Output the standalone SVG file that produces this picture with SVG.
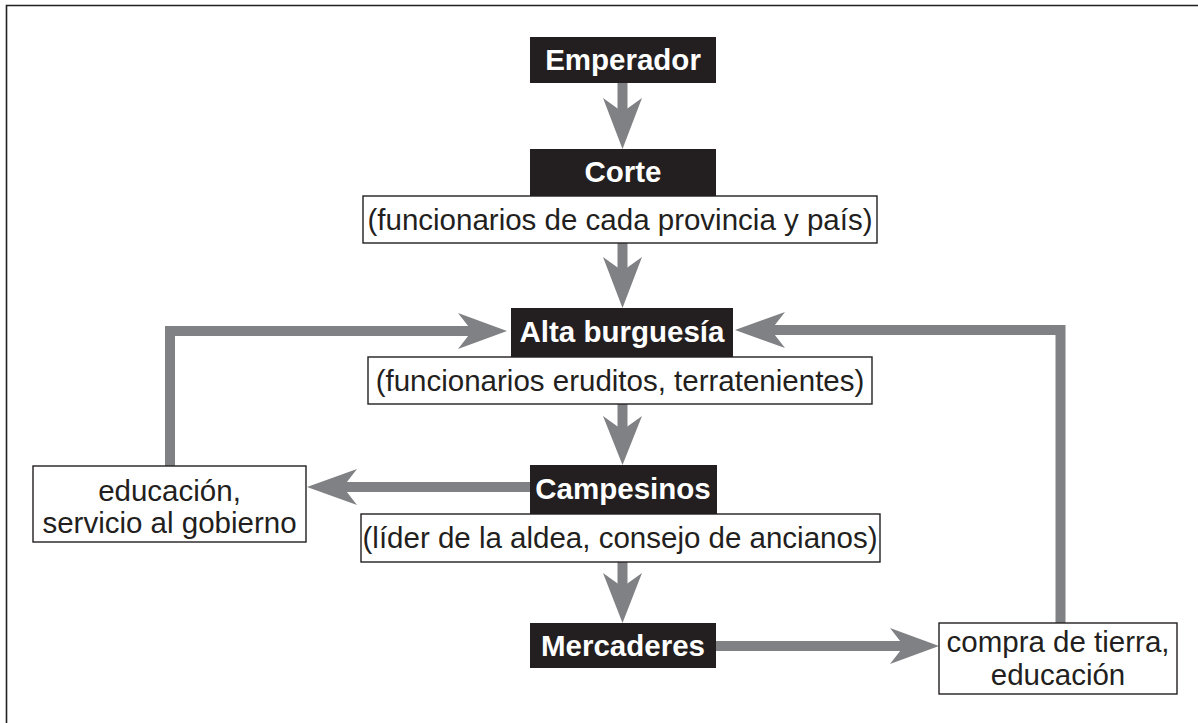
<svg xmlns="http://www.w3.org/2000/svg" width="1198" height="723" viewBox="0 0 1198 723">
<defs>
<style>
.bk{fill:#231f20}
.wb{fill:#fff;stroke:#231f20;stroke-width:1.4}
.tb{font-family:"Liberation Sans",Arial,sans-serif;font-weight:bold;font-size:29.5px;fill:#fff;text-anchor:middle}
.tr{font-family:"Liberation Sans",Arial,sans-serif;font-size:29.5px;fill:#231f20;text-anchor:middle}
.sh{fill:none;stroke:#808184;stroke-width:10;stroke-linejoin:miter}
.hd{fill:#808184}
.fr{fill:none;stroke:#231f20;stroke-width:1.6}
</style>
</defs>
<rect width="1198" height="723" fill="#fff"/>
<path class="fr" d="M6.5,723 V5.5 H1198"/>
<g id="connectors">
<line class="sh" x1="622.5" y1="83" x2="622.5" y2="115"/>
<polygon class="hd" points="603,98 622.5,112 642,98 622.5,149"/>
<line class="sh" x1="622.5" y1="243" x2="622.5" y2="274"/>
<polygon class="hd" points="603,257 622.5,271 642,257 622.5,308"/>
<line class="sh" x1="622.5" y1="404" x2="622.5" y2="431"/>
<polygon class="hd" points="603,416 622.5,430 642,416 622.5,465"/>
<line class="sh" x1="622.5" y1="562" x2="622.5" y2="590"/>
<polygon class="hd" points="603,573 622.5,587 642,573 622.5,623"/>
<path class="sh" d="M170,466 V331 H475"/>
<polygon class="hd" points="458,313 472,331 458,349 507,331"/>
<path class="sh" d="M1060.5,623 V330 H768"/>
<polygon class="hd" points="785,312 771,330 785,348 735,330"/>
<line class="sh" x1="532" y1="487" x2="340" y2="487"/>
<polygon class="hd" points="357,469 343,487 357,505 307,487"/>
<line class="sh" x1="714" y1="646" x2="906" y2="646"/>
<polygon class="hd" points="890,628 904,646 890,664 939,646"/>
</g>
<g id="emperador">
<rect class="bk" x="530" y="37" width="186" height="46"/>
<text class="tb" x="623" y="70">Emperador</text>
</g>
<g id="corte">
<rect class="bk" x="530" y="149" width="186" height="47"/>
<text class="tb" x="623" y="182">Corte</text>
<rect class="wb" x="363" y="196" width="514" height="47"/>
<text class="tr" x="620" y="230">(funcionarios de cada provincia y país)</text>
</g>
<g id="alta">
<rect class="bk" x="511" y="308" width="222" height="49"/>
<text class="tb" x="622" y="342">Alta burguesía</text>
<rect class="wb" x="368" y="357" width="504" height="47"/>
<text class="tr" x="620" y="391">(funcionarios eruditos, terratenientes)</text>
</g>
<g id="campesinos">
<rect class="bk" x="530" y="465" width="187" height="49"/>
<text class="tb" x="623" y="499">Campesinos</text>
<rect class="wb" x="361" y="514" width="519" height="48"/>
<text class="tr" x="620" y="548">(líder de la aldea, consejo de ancianos)</text>
</g>
<g id="mercaderes">
<rect class="bk" x="530" y="623" width="186" height="45"/>
<text class="tb" x="623" y="656">Mercaderes</text>
</g>
<g id="educacion">
<rect class="wb" x="33" y="466" width="273" height="76"/>
<text class="tr" x="169.5" y="501">educación,</text>
<text class="tr" x="169.5" y="533">servicio al gobierno</text>
</g>
<g id="compra">
<rect class="wb" x="939" y="623" width="238" height="71"/>
<text class="tr" x="1058" y="652">compra de tierra,</text>
<text class="tr" x="1058" y="685">educación</text>
</g>
</svg>
